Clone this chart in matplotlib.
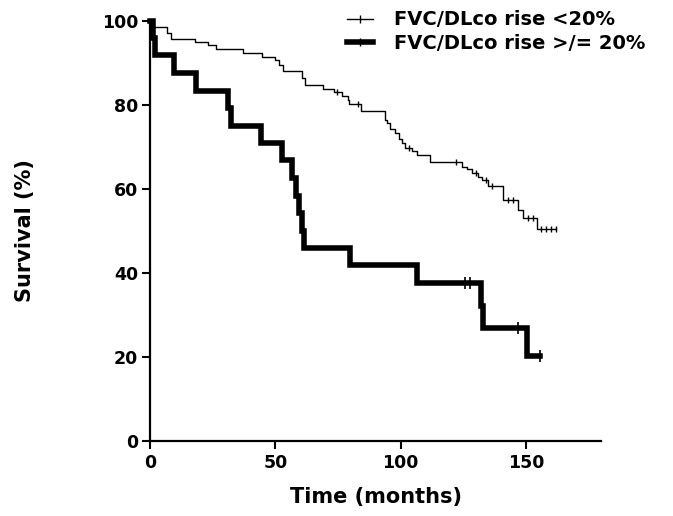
import numpy as np
import matplotlib
matplotlib.use('Agg')
import matplotlib.pyplot as plt
from matplotlib.lines import Line2D

plt.rcParams['font.family'] = ['DejaVu Sans']
plt.rcParams['font.weight'] = 'bold'

# FVC/DLco rise <20%  (event times in months, survival % after the event)
thin_t = [0, 0.8, 6.9, 8.5, 18.0, 23.3, 26.3, 37.0, 44.7, 50.0, 51.6, 53.0, 60.8, 62.0,
          68.9, 73.6, 76.5, 78.9, 79.5, 84.2, 93.9, 94.7, 95.8, 97.8, 99.2, 100.5, 101.8,
          104.7, 106.4, 111.8, 124.4, 126.5, 128.5, 131.0, 132.5, 135.0, 141.0, 147.0,
          149.0, 154.4, 162.0]
thin_s = [100, 98.4, 97.0, 95.7, 94.8, 94.2, 93.1, 92.2, 91.4, 90.6, 89.4, 88.0, 86.3, 84.6,
          83.7, 83.0, 82.1, 81.1, 80.1, 78.5, 76.3, 75.5, 74.1, 73.1, 71.9, 70.8, 69.7,
          68.9, 68.0, 66.2, 65.2, 64.6, 63.6, 62.8, 62.0, 60.6, 57.3, 54.9,
          52.9, 50.3, 50.3]
thin_cens = [74.5, 83.0, 103.5, 122.0, 130.0, 134.0, 136.5, 143.0, 145.0, 151.0, 153.0,
             156.0, 158.0, 160.0, 162.0]

# FVC/DLco rise >/= 20%
thick_t = [0, 1.0, 2.0, 9.5, 18.5, 31.0, 32.5, 44.5, 52.5, 56.5, 58.4, 59.5, 60.5, 61.5,
           80.0, 106.5, 132.0, 133.0, 150.5, 155.5]
thick_s = [100, 95.8, 91.7, 87.5, 83.3, 79.2, 75.0, 70.8, 66.7, 62.5, 58.3, 54.2, 50.0, 45.8,
           41.7, 37.5, 32.1, 26.8, 20.1, 20.1]
thick_cens = [125.7, 127.7, 147.0, 155.5]

labels = ['FVC/DLco rise <20%', 'FVC/DLco rise >/= 20%']


def step_value(ts, ss, c):
    i = np.searchsorted(ts, c, side='right') - 1
    return ss[i]


fig = plt.figure(figsize=(6.73, 5.16), dpi=100)
ax = fig.add_axes([150 / 673, 75.5 / 516, 451 / 673, 420 / 516])

ax.step(thin_t, thin_s, where='post', color='black', lw=1.0, clip_on=False)
ax.plot(thin_cens, [step_value(thin_t, thin_s, c) for c in thin_cens], ls='none',
        marker='|', ms=5, mew=1.0, color='black', clip_on=False)

ax.step(thick_t, thick_s, where='post', color='black', lw=4.0, clip_on=False,
        solid_joinstyle='miter')
ax.plot(thick_cens, [step_value(thick_t, thick_s, c) for c in thick_cens], ls='none',
        marker='|', ms=8, mew=1.2, color='black', clip_on=False)

ax.set_xlim(0, 180)
ax.set_ylim(0, 100)
ax.set_xticks([0, 50, 100, 150])
ax.set_yticks([0, 20, 40, 60, 80, 100])

for s in ['top', 'right']:
    ax.spines[s].set_visible(False)
for s in ['left', 'bottom']:
    ax.spines[s].set_linewidth(1.6)

ax.tick_params(direction='out', length=5.5, width=1.5, pad=3.0, labelsize=12.5)
ax.tick_params(axis='x', pad=4.5)
for lab in ax.get_xticklabels() + ax.get_yticklabels():
    lab.set_fontweight('bold')

ax.set_xlabel('Time (months)', fontsize=15, fontweight='bold')
ax.set_ylabel('Survival (%)', fontsize=15, fontweight='bold')
ax.xaxis.set_label_coords(0.5, -0.11)
ax.yaxis.set_label_coords(-0.255, 0.5)

handles = [Line2D([], [], color='black', lw=1.0, marker='|', ms=6, mew=1.0),
           Line2D([], [], color='black', lw=4.0, marker='|', ms=6, mew=1.0)]
ax.legend(handles, labels, loc='upper left', bbox_to_anchor=(347 / 673, 0.98),
          bbox_transform=fig.transFigure, frameon=False,
          prop={'weight': 'bold', 'size': 14}, handlelength=1.35, handletextpad=1.05,
          borderpad=0, borderaxespad=0, labelspacing=0.25, numpoints=1)

fig.savefig('out.png', dpi=100)
